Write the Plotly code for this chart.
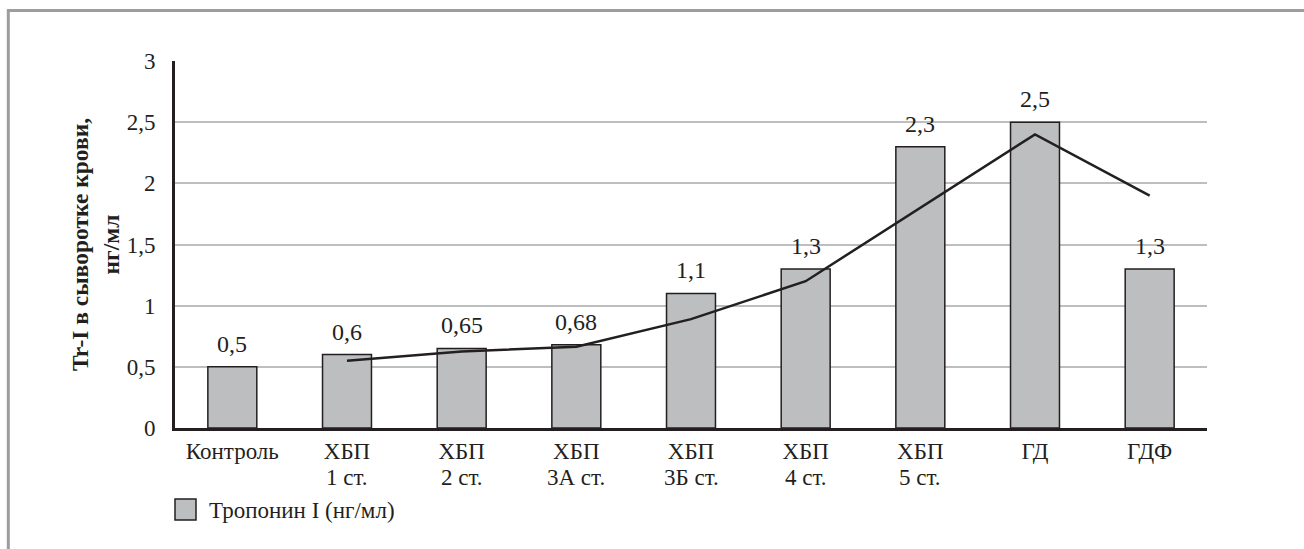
import plotly.graph_objects as go

# Groups along the x axis: group name and CKD stage (second label line)
group_names = ["Контроль", "ХБП", "ХБП", "ХБП", "ХБП", "ХБП", "ХБП", "ГД", "ГДФ"]
stages = ["", "1 ст.", "2 ст.", "3А ст.", "3Б ст.", "4 ст.", "5 ст.", "", ""]
categories = [f"{g} {s}".strip() for g, s in zip(group_names, stages)]
# Serum troponin I, ng/ml
troponin = [0.5, 0.6, 0.65, 0.68, 1.1, 1.3, 2.3, 2.5, 1.3]
# Moving-average trend line (starts at the second group)
trend_categories = categories[1:]
trend_values = [0.55, 0.625, 0.665, 0.89, 1.2, 1.8, 2.4, 1.9]
y_ticks = [0, 0.5, 1, 1.5, 2, 2.5, 3]

FONT = "'Liberation Serif', 'Times New Roman', 'DejaVu Serif', serif"
INK = "#231f20"
BAR_FILL = "#bcbec0"
FS = 23

W, H = 1304, 549
L, R, T, B = 175, 97, 61, 121
plot_w = W - L - R
plot_h = H - T - B


def px_x(px):
    return (px - L) / plot_w


def px_y(py):
    return (H - B - py) / plot_h


def fmt(v):
    return f"{v:g}".replace(".", ",")


fig = go.Figure()
fig.add_trace(go.Bar(
    x=categories,
    y=troponin,
    marker=dict(color=BAR_FILL, line=dict(color=INK, width=1.5)),
    showlegend=False,
    hoverinfo="skip",
))
fig.add_trace(go.Scatter(
    x=trend_categories,
    y=trend_values,
    mode="lines",
    line=dict(color=INK, width=2.5),
    showlegend=False,
    hoverinfo="skip",
))

annotations = []
# value labels above the bars
for c, v in zip(categories, troponin):
    annotations.append(dict(
        x=c, y=v, xref="x", yref="y", text=fmt(v), showarrow=False,
        yanchor="bottom", yshift=8, font=dict(family=FONT, size=24, color=INK),
    ))
# second line of the category labels
for c, s in zip(categories, stages):
    if s:
        annotations.append(dict(
            x=c, y=0, xref="x", yref="y", text=s, showarrow=False,
            yanchor="top", yshift=-35, font=dict(family=FONT, size=FS, color=INK),
        ))

# legend entry
annotations.append(dict(
    x=px_x(207), y=px_y(510), xref="paper", yref="paper",
    text="Тропонин I (нг/мл)", showarrow=False, xanchor="left", yanchor="middle",
    font=dict(family=FONT, size=FS, color=INK),
))

shapes = [
    dict(type="rect", xref="paper", yref="paper",
         x0=px_x(175), x1=px_x(196), y0=px_y(520), y1=px_y(499),
         fillcolor=BAR_FILL, line=dict(color=INK, width=1.5)),
    # outer frame
    dict(type="rect", xref="paper", yref="paper",
         x0=px_x(8.3), x1=px_x(1330), y0=px_y(580), y1=px_y(10.5),
         fillcolor="rgba(0,0,0,0)", line=dict(color="#9d9d9d", width=3)),
]

fig.update_layout(
    width=W, height=H, autosize=False,
    margin=dict(l=L, r=R, t=T, b=B, pad=0),
    paper_bgcolor="white", plot_bgcolor="white",
    separators=", ",
    bargap=0.573,
    font=dict(family=FONT, size=FS, color=INK),
    annotations=annotations,
    shapes=shapes,
    xaxis=dict(
        type="category", showline=True, linecolor=INK, linewidth=3,
        tickvals=categories, ticktext=group_names,
        ticks="", showgrid=False, tickfont=dict(family=FONT, size=FS, color=INK),
        ticklabelstandoff=0,
    ),
    yaxis=dict(
        range=[0, 3], tickvals=y_ticks, showline=True, linecolor=INK, linewidth=3,
        ticks="", showgrid=True, gridcolor=BAR_FILL, gridwidth=1.5, zeroline=False,
        tickfont=dict(family=FONT, size=FS, color=INK), ticklabelstandoff=12,
        title=dict(text="<b>Tr-I в сыворотке крови,<br>нг/мл</b>",
                   font=dict(family=FONT, size=23.5, color=INK), standoff=1),
    ),
)

fig.write_html("out.html")
